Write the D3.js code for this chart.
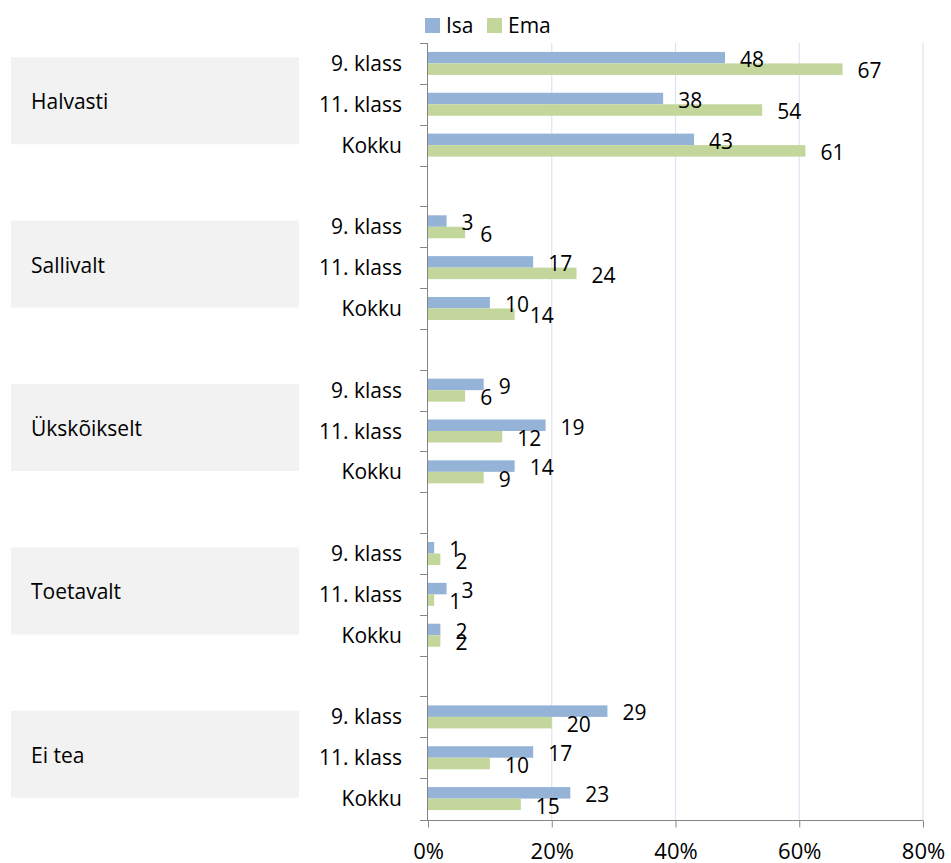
<!DOCTYPE html>
<html><head><meta charset="utf-8">
<script src="https://cdn.jsdelivr.net/npm/d3@7"></script>
<style>body{margin:0;background:#fff;} svg{display:block;}</style>
</head><body>
<svg id="chart" width="951" height="863"></svg>
<script>
const groups = ["Halvasti","Sallivalt","Ükskõikselt","Toetavalt","Ei tea"];
const subcats = ["9. klass","11. klass","Kokku"];
const seriesNames = ["Isa","Ema"];
const isa = [[48,38,43],[3,17,10],[9,19,14],[1,3,2],[29,17,23]];
const ema = [[67,54,61],[6,24,14],[6,12,9],[2,1,2],[20,10,15]];
const xTicks = [0,20,40,60,80];
const colors = ["#95B3D7","#C3D69B"];
const font = "'Open Sans', sans-serif";

const svg = d3.select("#chart");
const x = d3.scaleLinear().domain([0,80]).range([428,923]);
const slots = [];
groups.forEach((g,gi)=>{ subcats.forEach(s=>slots.push(g+"|"+s)); if(gi<groups.length-1) slots.push("blank"+gi); });
const y = d3.scaleBand().domain(slots).range([43,819]).padding(0);
const bh = 11.5;

// gray group boxes
groups.forEach(g=>{
  const c = (y(g+"|"+subcats[0]) + y(g+"|"+subcats[2]) + y.bandwidth())/2;
  svg.append("rect").attr("x",11).attr("y",c-47).attr("width",288).attr("height",87).attr("fill","#f2f2f2");
  svg.append("text").attr("x",31).attr("y",c+5).attr("font-family",font).attr("font-size",21).attr("fill","#000").text(g);
});

// gridlines
svg.append("g").selectAll("line").data(xTicks.slice(1)).join("line")
  .attr("x1",d=>x(d)).attr("x2",d=>x(d)).attr("y1",43).attr("y2",820)
  .attr("stroke","#dbe5f1").attr("stroke-width",1.2);

// bars
const rows = [];
groups.forEach((g,gi)=>subcats.forEach((s,si)=>{
  rows.push({key:g+"|"+s, sub:s, vals:[isa[gi][si], ema[gi][si]]});
}));
const barG = svg.append("g"), labG = svg.append("g");
rows.forEach(r=>{
  const c = y(r.key) + y.bandwidth()/2;
  r.vals.forEach((v,i)=>{
    barG.append("rect").attr("x",x(0)).attr("y",c - bh + i*bh).attr("width",x(v)-x(0)).attr("height",bh).attr("fill",colors[i]);
    labG.append("text").attr("x",x(v)+15).attr("y",c + (i===0?3.5:15))
      .attr("font-family",font).attr("font-size",21).attr("fill","#000").text(v);
  });
  labG.append("text").attr("x",402).attr("y",c+7.5).attr("text-anchor","end")
    .attr("font-family",font).attr("font-size",21).attr("fill","#000").text(r.sub);
});

// y axis
const axisColor = "#868686";
svg.append("line").attr("x1",427.5).attr("x2",427.5).attr("y1",43).attr("y2",820).attr("stroke",axisColor);
const bounds = slots.map(s=>y(s));
svg.append("g").selectAll("line").data(bounds).join("line")
  .attr("x1",420).attr("x2",427.5).attr("y1",d=>Math.round(d)+0.5).attr("y2",d=>Math.round(d)+0.5).attr("stroke",axisColor);

// x axis
const xAxis = d3.axisBottom(x).tickValues(xTicks).tickFormat(d=>d+"%").tickSize(7).tickSizeOuter(0);
const gx = svg.append("g").attr("transform","translate(0,820.5)").call(xAxis);
gx.select(".domain").remove();
gx.append("line").attr("x1",420).attr("x2",923).attr("stroke",axisColor);
gx.selectAll(".tick line").attr("stroke",axisColor);
gx.selectAll(".tick text").attr("font-family",font).attr("font-size",22).attr("fill","#000").attr("y",38).attr("dy",0);

// legend
seriesNames.forEach((n,i)=>{
  const lx = [425,487][i];
  svg.append("rect").attr("x",lx).attr("y",18).attr("width",15).attr("height",15).attr("fill",colors[i]);
  svg.append("text").attr("x",lx+21).attr("y",33).attr("font-family",font).attr("font-size",21).attr("fill","#000").text(n);
});
</script>
</body></html>
